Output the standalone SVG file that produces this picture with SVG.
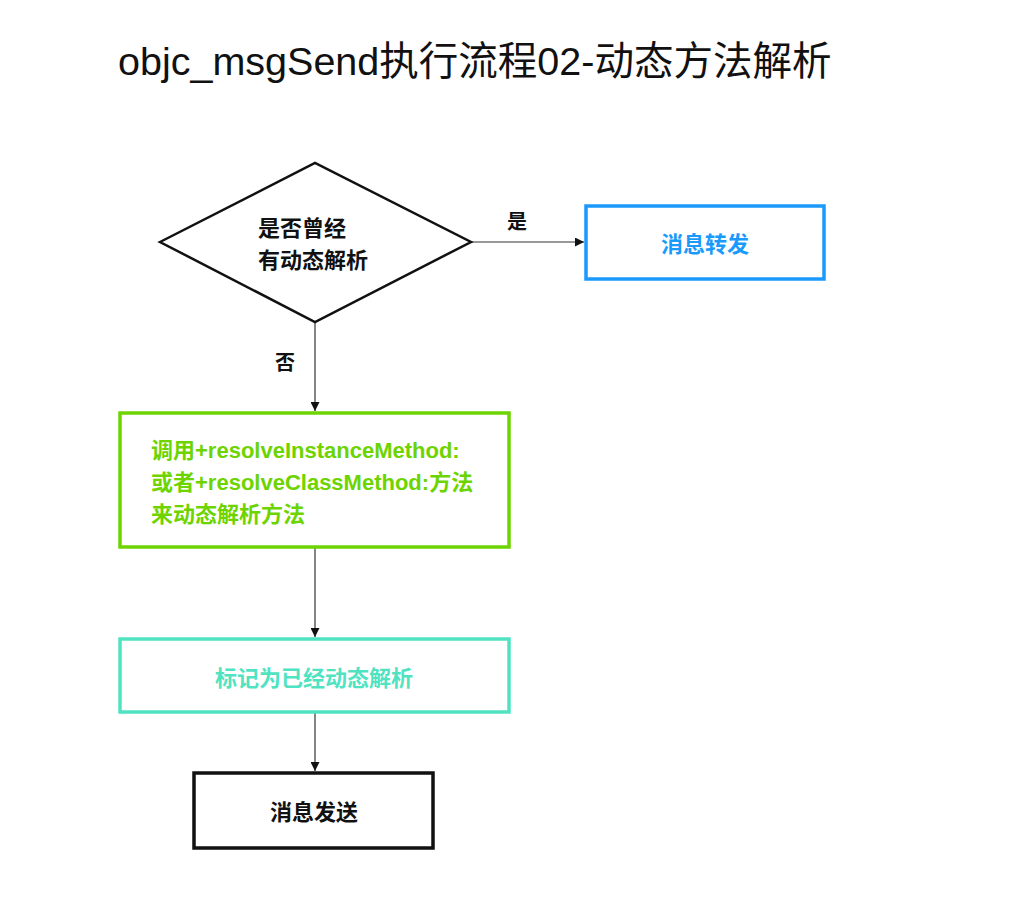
<svg xmlns="http://www.w3.org/2000/svg" width="1024" height="914" viewBox="0 0 1024 914">
<style>
text{font-family:"Liberation Sans","Noto Sans CJK SC",sans-serif;}
.lbl{font-size:22px;font-weight:bold;}
.conn{stroke:#333;stroke-width:1.2;fill:none;marker-end:url(#arr);}
.box{fill:#fff;stroke-width:3.5;}
</style>
<defs>
<marker id="arr" viewBox="0 0 10 10" refX="10" refY="5" markerWidth="9" markerHeight="9" markerUnits="userSpaceOnUse" orient="auto">
<path d="M0,0 L10,5 L0,10 z" fill="#111"/>
</marker>
</defs>
<rect width="1024" height="914" fill="#fff"/>
<text x="118" y="75" font-size="39.5" fill="#111">objc_msgSend执行流程02-动态方法解析</text>
<g id="connectors">
<path class="conn" d="M471,242 L584,242"/>
<path class="conn" d="M315,322 L315,411"/>
<path class="conn" d="M315,547 L315,637"/>
<path class="conn" d="M315,712 L315,771"/>
<text class="lbl" x="517" y="229" font-size="20" text-anchor="middle" fill="#111" style="font-size:20px">是</text>
<text class="lbl" x="285" y="370" text-anchor="middle" fill="#111" style="font-size:20px">否</text>
</g>
<g id="decision">
<polygon points="160,242 315,163 471,242 315,322" fill="#fff" stroke="#111" stroke-width="2.5"/>
<text class="lbl" x="258" y="236" fill="#111">是否曾经</text>
<text class="lbl" x="258" y="268" fill="#111">有动态解析</text>
</g>
<g id="forward">
<rect class="box" x="586" y="206" width="238" height="73" stroke="#1a9bfc"/>
<text class="lbl" x="705" y="252" text-anchor="middle" fill="#1a9bfc">消息转发</text>
</g>
<g id="resolve">
<rect class="box" x="120" y="413" width="389" height="134" stroke="#6dd400"/>
<text class="lbl" x="151" y="458" fill="#6dd400">调用+resolveInstanceMethod:</text>
<text class="lbl" x="151" y="490" fill="#6dd400">或者+resolveClassMethod:方法</text>
<text class="lbl" x="151" y="522" fill="#6dd400">来动态解析方法</text>
</g>
<g id="mark">
<rect class="box" x="120" y="639" width="389" height="73" stroke="#50e3c2"/>
<text class="lbl" x="314" y="686" text-anchor="middle" fill="#50e3c2">标记为已经动态解析</text>
</g>
<g id="send">
<rect class="box" x="194" y="773" width="239" height="75" stroke="#111"/>
<text class="lbl" x="314" y="820" text-anchor="middle" fill="#111">消息发送</text>
</g>
</svg>
